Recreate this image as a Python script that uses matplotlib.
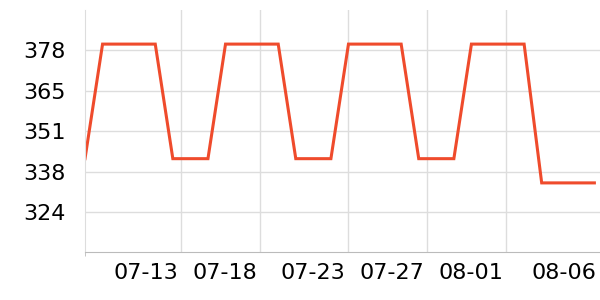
import matplotlib
matplotlib.use("Agg")
import matplotlib.pyplot as plt
import matplotlib.transforms as mtransforms
import numpy as np
from matplotlib.ticker import FuncFormatter

# значения ряда (30 точек)
high = 380.5
low = 342.2
last = 334.1
values = ([low] + [high] * 4 + [low] * 3 + [high] * 4 + [low] * 3
          + [high] * 4 + [low] * 3 + [high] * 4 + [last] * 4)

tick_labels = ["07-13", "07-18", "07-23", "07-27", "08-01", "08-06"]
tick_pos = [5.47, 9.97, 14.98, 19.48, 23.98, 29.3]

y_ticks = np.arange(324.4, 390, 13.5)

fig = plt.figure(figsize=(6, 3), dpi=100)
ax = fig.add_axes([85 / 600, 1 - 252.3 / 300, 1 - 85 / 600, (252.3 - 10) / 300])

x = np.arange(len(values))
ax.plot(x, values, color="#ef4b2c", linewidth=2.2, solid_joinstyle="miter")

ax.set_xlim(0, 29.32)
ax.set_ylim(310.9, 391.9)

ax.set_xticks(tick_pos)
ax.set_xticklabels(tick_labels, ha="right")
ax.set_yticks(y_ticks)
ax.yaxis.set_major_formatter(FuncFormatter(lambda v, p: f"{v:.0f}"))

ax.grid(True, color="#dddddd", linewidth=1)
ax.set_axisbelow(True)
ax.tick_params(axis="both", length=0, labelsize=16, colors="black")
ax.tick_params(axis="x", pad=8)
ax.tick_params(axis="y", pad=14)

# подписи чуть левее засечек
shift = mtransforms.ScaledTranslation(-3 / 100, 0, fig.dpi_scale_trans)
for lbl in ax.get_xticklabels():
    lbl.set_transform(lbl.get_transform() + shift)

# у последней метки нет линии сетки
ax.get_xgridlines()[-1].set_visible(False)

# маленькая засечка в начале оси
ax.set_xticks([0], minor=True)
ax.tick_params(axis="x", which="minor", length=3, color="#bbbbbb")

for s in ["top", "right"]:
    ax.spines[s].set_visible(False)
ax.spines["left"].set_color("#dddddd")
ax.spines["bottom"].set_color("#bbbbbb")

fig.savefig("out.png", dpi=100)
